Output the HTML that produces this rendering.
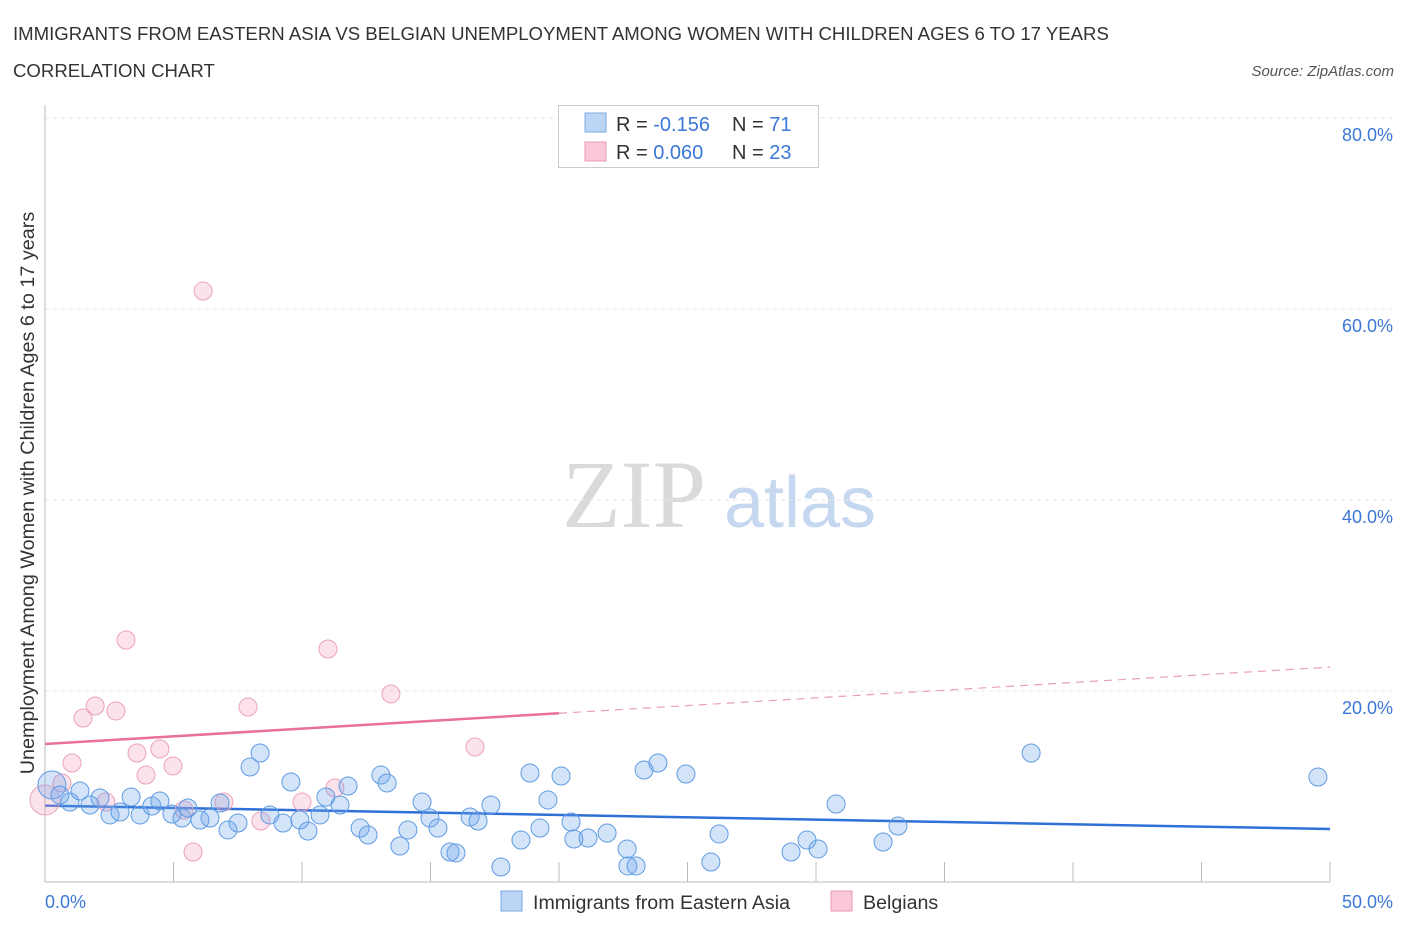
<!DOCTYPE html>
<html><head><meta charset="utf-8"><style>
body{margin:0;background:#fff;width:1406px;height:930px;overflow:hidden;font-family:"Liberation Sans",sans-serif}
</style></head><body>
<svg id="chart" width="1406" height="930" font-family="Liberation Sans, sans-serif">
<text x="13" y="40" font-size="18.6" fill="#333">IMMIGRANTS FROM EASTERN ASIA VS BELGIAN UNEMPLOYMENT AMONG WOMEN WITH CHILDREN AGES 6 TO 17 YEARS</text>
<text x="13" y="77" font-size="18.6" fill="#333">CORRELATION CHART</text>
<text x="1394" y="76" font-size="15" fill="#555" font-style="italic" text-anchor="end">Source: ZipAtlas.com</text>
<text x="0" y="0" font-size="19.8" fill="#333" text-anchor="middle" transform="translate(34,493) rotate(-90)">Unemployment Among Women with Children Ages 6 to 17 years</text>
<g>
<text x="634" y="527" font-size="96" style="font-family:'Liberation Serif',serif" fill="#dadada" text-anchor="middle">ZIP</text>
<text x="800" y="527" font-size="72" fill="#c5d8ef" text-anchor="middle">atlas</text>
</g>
<g id="grid"></g><g id="axes"></g><g id="trend"></g><g id="pts"></g>
<g>
<rect x="558.5" y="105.5" width="260" height="62" fill="#fff" stroke="#ccc"/>
<rect x="585" y="113" width="21" height="19" fill="#bcd5f5" stroke="#7aaae6"/>
<rect x="585" y="142" width="21" height="19" fill="#fbc8d8" stroke="#eb9ab5"/>
<text x="616" y="131" font-size="20" fill="#333">R = <tspan fill="#3b78d8">-0.156</tspan></text>
<text x="732" y="131" font-size="20" fill="#333">N = <tspan fill="#3b78d8"> 71</tspan></text>
<text x="616" y="159" font-size="20" fill="#333">R = <tspan fill="#3b78d8"> 0.060</tspan></text>
<text x="732" y="159" font-size="20" fill="#333">N = <tspan fill="#3b78d8">23</tspan></text>
</g>
<g>
<rect x="501" y="891" width="21" height="20" fill="#bcd5f5" stroke="#7aaae6"/>
<text x="533" y="909" font-size="19.6" fill="#333">Immigrants from Eastern Asia</text>
<rect x="831" y="891" width="21" height="20" fill="#fbc8d8" stroke="#eb9ab5"/>
<text x="863" y="909" font-size="19.6" fill="#333">Belgians</text>
</g>
</svg>
<script>
const yTicks=[20,40,60,80];
const xTickLabels=["0.0%","50.0%"];
const blueX=[0.27,0.58,0.97,1.36,1.75,2.14,2.53,2.92,3.35,3.70,4.16,4.47,4.94,5.33,5.56,6.03,6.42,6.81,7.12,7.51,7.98,8.37,8.75,9.26,9.57,9.92,10.23,10.70,10.93,11.48,11.79,12.26,12.57,13.07,13.31,13.81,14.12,14.67,14.98,15.29,15.76,15.99,16.54,16.85,17.35,17.74,18.52,18.87,19.26,19.57,20.08,20.47,20.58,21.13,21.87,22.65,22.68,23.00,23.31,23.85,24.94,25.91,26.23,29.03,29.65,30.08,30.78,32.61,33.19,38.37,49.53];
const blueY=[10.16,9.11,8.38,9.53,8.06,8.80,7.02,7.33,8.90,7.02,7.96,8.48,7.12,6.70,7.75,6.49,6.70,8.27,5.45,6.18,12.04,13.51,7.02,6.18,10.47,6.49,5.34,7.02,8.90,8.06,10.05,5.65,4.92,11.20,10.37,3.77,5.45,8.38,6.70,5.65,3.14,3.04,6.81,6.39,8.06,1.57,4.40,11.41,5.65,8.59,11.10,6.28,4.50,4.61,5.13,3.46,1.68,1.68,11.73,12.46,11.31,2.09,5.03,3.14,4.40,3.46,8.17,4.19,5.86,13.51,10.99];
const pinkX=[0,0.66,1.05,1.48,1.95,2.37,2.76,3.15,3.58,3.93,4.47,4.98,5.41,5.76,6.15,6.96,7.90,8.40,10.00,11.01,11.28,13.46,16.73];
const pinkY=[8.59,10.37,12.46,17.17,18.43,8.38,17.91,25.34,13.51,11.20,13.93,12.15,7.54,3.14,61.88,8.38,18.32,6.39,8.38,24.40,9.84,19.69,14.14];
const blueTrend=[8.0,5.55];
const pinkTrend=[14.45,22.5];
const NS="http://www.w3.org/2000/svg";
const X=v=>45+v*25.7, Y=v=>882-v*9.55;
function mk(tag,attrs,parent){const e=document.createElementNS(NS,tag);for(const k in attrs)e.setAttribute(k,attrs[k]);document.getElementById(parent).appendChild(e);return e;}
yTicks.forEach(t=>{
 const g=mk('line',{x1:45,x2:1395,y1:Y(t),y2:Y(t),stroke:'#e6e6e6','stroke-dasharray':'4,4'},'grid');
 
 
 const tx=mk('text',{x:1393,y:Y(t)+23,'font-size':18,fill:'#3b78d8','text-anchor':'end'},'grid');
 tx.textContent=t.toFixed(1)+'%';
 
 
});
const ax=mk('line',{x1:45,x2:1330,y1:882,y2:882,stroke:'#bbb'},'axes');


const ay=mk('line',{x1:45,x2:45,y1:105,y2:882,stroke:'#bbb'},'axes');


for(let i=1;i<=10;i++){const t=mk('line',{x1:X(i*5),x2:X(i*5),y1:862,y2:882,stroke:'#bbb'},'axes');
 
 }
[[0,'start',45],[50,'end',1393]].forEach((d,i)=>{const t=mk('text',{x:d[2],y:908,'font-size':18,fill:'#3b78d8','text-anchor':d[1]},'axes');t.textContent=xTickLabels[i];
 
 });
const bl=mk('line',{x1:X(0),y1:Y(blueTrend[0]),x2:X(50),y2:Y(blueTrend[1]),stroke:'#2f6fd6','stroke-width':2.5},'trend');


const pm=v=>pinkTrend[0]+(pinkTrend[1]-pinkTrend[0])*v/50;
const ps=mk('line',{x1:X(0),y1:Y(pm(0)),x2:X(20),y2:Y(pm(20)),stroke:'#e8709a','stroke-width':2.5},'trend');


const pd=mk('line',{x1:X(20),y1:Y(pm(20)),x2:X(50),y2:Y(pm(50)),stroke:'#e8a0b8','stroke-width':1.2,'stroke-dasharray':'8,6'},'trend');


pinkX.forEach((v,i)=>{const c=mk('circle',{cx:X(v),cy:Y(pinkY[i]),r:i==0?15:9,fill:'rgba(245,160,190,0.3)',stroke:'#eca2bb','stroke-width':1},'pts');
 
 });
blueX.forEach((v,i)=>{const c=mk('circle',{cx:X(v),cy:Y(blueY[i]),r:i==0?14:9,fill:'rgba(110,165,235,0.3)',stroke:'#5f9be3','stroke-width':1},'pts');
 
 });
</script>
</body></html>
